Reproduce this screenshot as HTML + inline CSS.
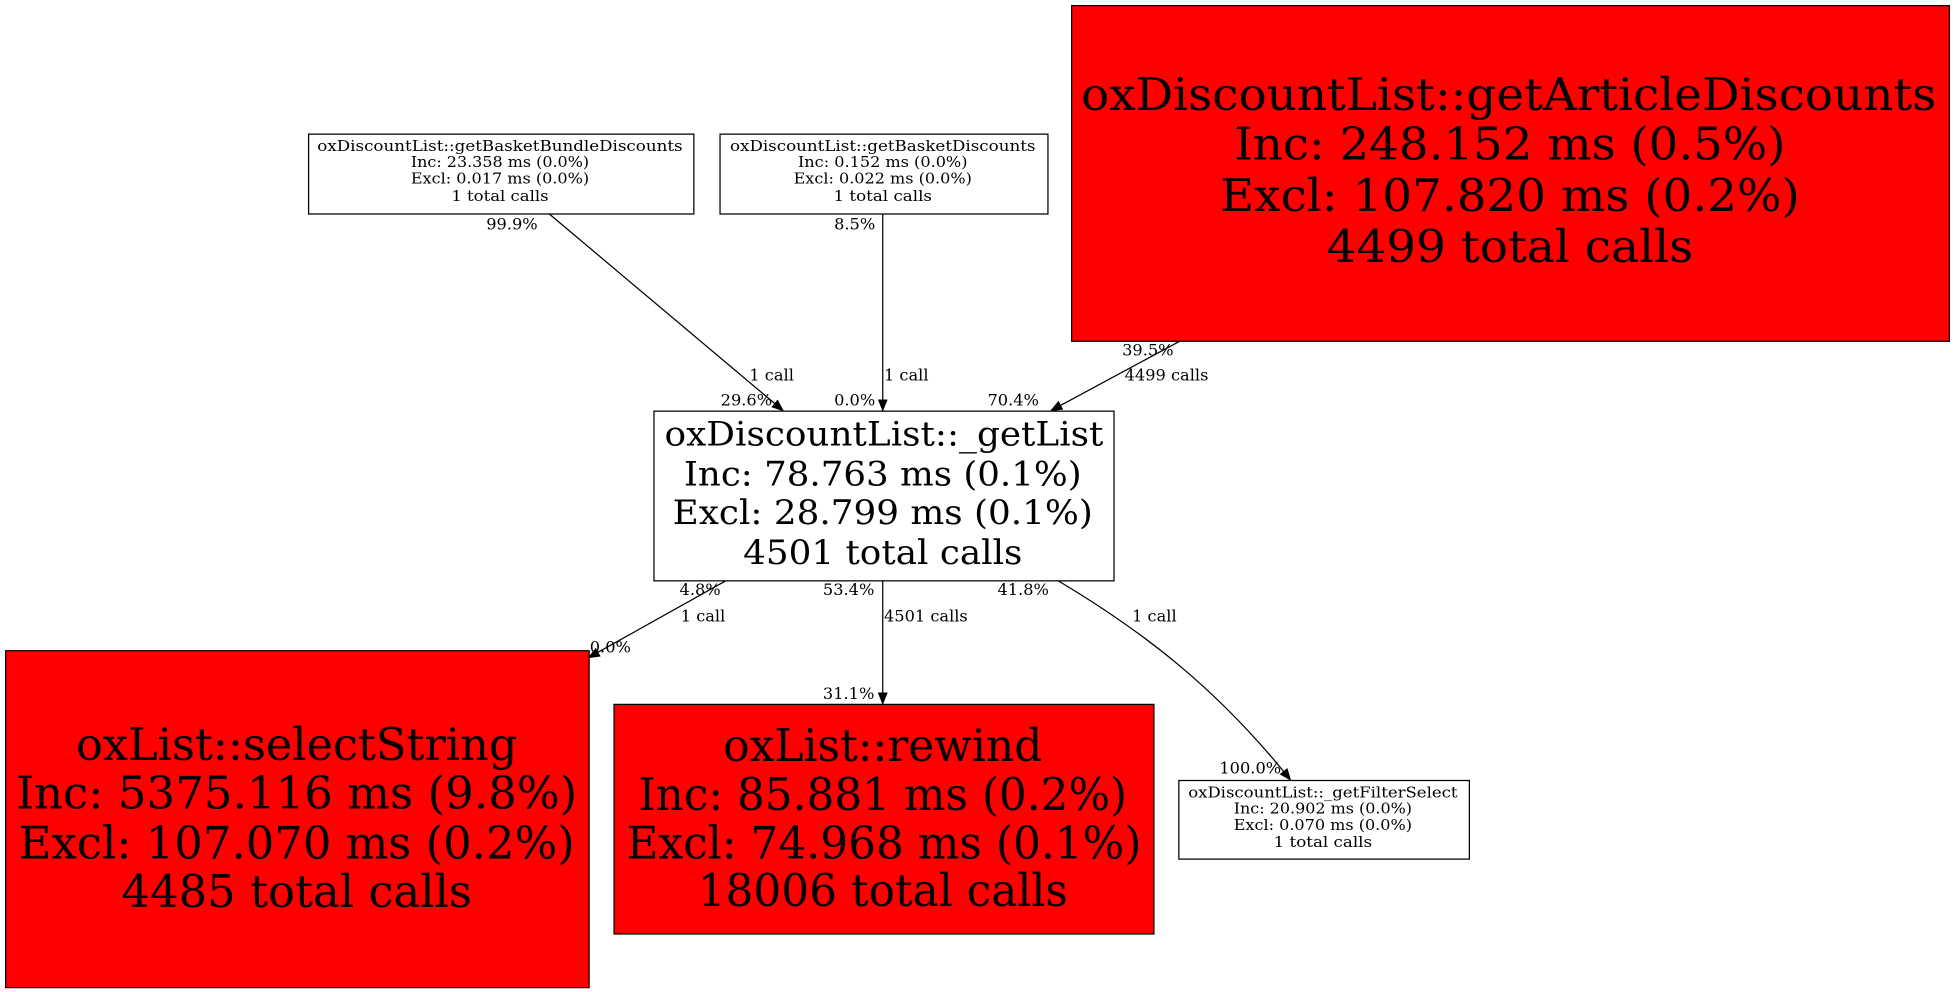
<!DOCTYPE html>
<html><head><meta charset="utf-8"><style>
html,body{margin:0;padding:0;background:#fff;width:1955px;height:992px;overflow:hidden}
svg{display:block}
text{font-family:"DejaVu Serif","Liberation Serif",serif;fill:#000}
</style></head><body>
<svg width="1955" height="992" viewBox="0 0 1568 795" preserveAspectRatio="none" xmlns="http://www.w3.org/2000/svg">
<defs><marker id="a" markerWidth="10" markerHeight="8" refX="9" refY="4" orient="auto" markerUnits="userSpaceOnUse"><path d="M0,0 L10,4 L0,8 z" fill="#000"/></marker></defs>
<g stroke="#000" stroke-width="1" fill="none">
<line x1="440" y1="171" x2="628" y2="329" marker-end="url(#a)"/>
<line x1="708" y1="171" x2="708" y2="329" marker-end="url(#a)"/>
<line x1="947" y1="273" x2="843" y2="329" marker-end="url(#a)"/>
<line x1="583" y1="465" x2="472" y2="527" marker-end="url(#a)"/>
<line x1="708" y1="465" x2="708" y2="564" marker-end="url(#a)"/>
<path d="M848,465 C915,505 975,550 1035,625" marker-end="url(#a)"/>
</g>
<rect x="859.5" y="4.5" width="704" height="269" fill="#f00" stroke="#000"/>
<rect x="247.5" y="107.5" width="309" height="64" fill="#fff" stroke="#000"/>
<rect x="577.5" y="107.5" width="263" height="64" fill="#fff" stroke="#000"/>
<rect x="524.5" y="329.5" width="369" height="136" fill="#fff" stroke="#000"/>
<rect x="4.5" y="521.5" width="468" height="270" fill="#f00" stroke="#000"/>
<rect x="492.5" y="564.5" width="433" height="184" fill="#f00" stroke="#000"/>
<rect x="945.5" y="625.5" width="233" height="63" fill="#fff" stroke="#000"/>
<g text-anchor="middle" lengthAdjust="spacingAndGlyphs">
<g font-size="36"><text x="1210" y="88" textLength="686" lengthAdjust="spacingAndGlyphs">oxDiscountList::getArticleDiscounts</text><text x="1211" y="128" textLength="442" lengthAdjust="spacingAndGlyphs">Inc: 248.152 ms (0.5%)</text><text x="1211" y="169" textLength="465" lengthAdjust="spacingAndGlyphs">Excl: 107.820 ms (0.2%)</text><text x="1211" y="210" textLength="294" lengthAdjust="spacingAndGlyphs">4499 total calls</text></g>
<g font-size="12"><text x="401" y="121" textLength="293" lengthAdjust="spacingAndGlyphs">oxDiscountList::getBasketBundleDiscounts</text><text x="401" y="134" textLength="143" lengthAdjust="spacingAndGlyphs">Inc: 23.358 ms (0.0%)</text><text x="401" y="147" textLength="143" lengthAdjust="spacingAndGlyphs">Excl: 0.017 ms (0.0%)</text><text x="401" y="161" textLength="78" lengthAdjust="spacingAndGlyphs">1 total calls</text></g>
<g font-size="12"><text x="708" y="121" textLength="245" lengthAdjust="spacingAndGlyphs">oxDiscountList::getBasketDiscounts</text><text x="708" y="134" textLength="136" lengthAdjust="spacingAndGlyphs">Inc: 0.152 ms (0.0%)</text><text x="708" y="147" textLength="143" lengthAdjust="spacingAndGlyphs">Excl: 0.022 ms (0.0%)</text><text x="708" y="161" textLength="79" lengthAdjust="spacingAndGlyphs">1 total calls</text></g>
<g font-size="27"><text x="709" y="357" textLength="352" lengthAdjust="spacingAndGlyphs">oxDiscountList::_getList</text><text x="708" y="389" textLength="319" lengthAdjust="spacingAndGlyphs">Inc: 78.763 ms (0.1%)</text><text x="708" y="420" textLength="337" lengthAdjust="spacingAndGlyphs">Excl: 28.799 ms (0.1%)</text><text x="708" y="452" textLength="224" lengthAdjust="spacingAndGlyphs">4501 total calls</text></g>
<g font-size="36"><text x="238" y="609" textLength="354" lengthAdjust="spacingAndGlyphs">oxList::selectString</text><text x="238" y="648" textLength="450" lengthAdjust="spacingAndGlyphs">Inc: 5375.116 ms (9.8%)</text><text x="238" y="688" textLength="446" lengthAdjust="spacingAndGlyphs">Excl: 107.070 ms (0.2%)</text><text x="238" y="727" textLength="281" lengthAdjust="spacingAndGlyphs">4485 total calls</text></g>
<g font-size="36"><text x="708" y="610" textLength="256" lengthAdjust="spacingAndGlyphs">oxList::rewind</text><text x="708" y="649" textLength="392" lengthAdjust="spacingAndGlyphs">Inc: 85.881 ms (0.2%)</text><text x="709" y="688" textLength="413" lengthAdjust="spacingAndGlyphs">Excl: 74.968 ms (0.1%)</text><text x="708" y="726" textLength="297" lengthAdjust="spacingAndGlyphs">18006 total calls</text></g>
<g font-size="12"><text x="1061" y="639" textLength="216" lengthAdjust="spacingAndGlyphs">oxDiscountList::_getFilterSelect</text><text x="1061" y="652" textLength="143" lengthAdjust="spacingAndGlyphs">Inc: 20.902 ms (0.0%)</text><text x="1061" y="665" textLength="143" lengthAdjust="spacingAndGlyphs">Excl: 0.070 ms (0.0%)</text><text x="1061" y="679" textLength="79" lengthAdjust="spacingAndGlyphs">1 total calls</text></g>
</g>
<g font-size="13">
<text x="390" y="184">99.9%</text><text x="601" y="305">1 call</text><text x="578" y="325">29.6%</text>
<text x="669" y="184">8.5%</text><text x="709" y="305">1 call</text><text x="669" y="325">0.0%</text>
<text x="900" y="285">39.5%</text><text x="902" y="305">4499 calls</text><text x="792" y="325">70.4%</text>
<text x="545" y="477">4.8%</text><text x="546" y="498">1 call</text><text x="473" y="523">0.0%</text>
<text x="660" y="477">53.4%</text><text x="709" y="498">4501 calls</text><text x="660" y="560">31.1%</text>
<text x="800" y="477">41.8%</text><text x="908" y="498">1 call</text><text x="978" y="620">100.0%</text>
</g>
</svg>
</body></html>
